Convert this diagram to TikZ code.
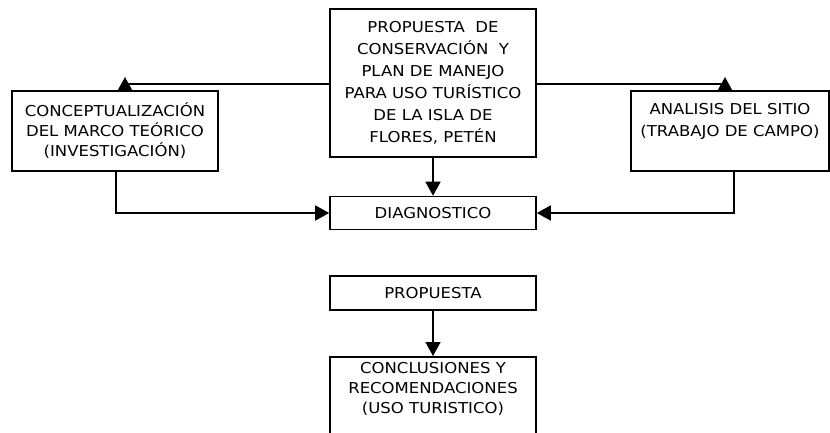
\documentclass[tikz,border=0pt]{standalone}
\usepackage{fontspec}
\setmainfont{DejaVu Sans}[FakeStretch=1.1]
\usetikzlibrary{arrows.meta}
\begin{document}
\begin{tikzpicture}[x=1pt,y=-1pt,
  box/.style={draw=black,line width=1.6pt,fill=white,inner sep=0pt},
  txt/.style={align=center,font=\fontsize{15}{22}\selectfont,inner sep=0pt},
  conn/.style={line width=1.6pt},
  arr/.style={line width=1.6pt,-{Triangle[length=14pt,width=15pt]}}]
\useasboundingbox (0,0) rectangle (830,433);
% boxes
\node[box,minimum width=206pt,minimum height=148pt] (top) at (433,83) {};
\node[txt] (toptxt) at (top.center) {PROPUESTA \ DE\\CONSERVACIÓN \ Y\\PLAN DE MANEJO\\PARA USO TURÍSTICO\\DE LA ISLA DE\\FLORES, PETÉN};
\node[box,minimum width=206pt,minimum height=80pt] (left) at (115,131) {};
\node[txt,font=\fontsize{15}{20}\selectfont] (lefttxt) at (left.center) {CONCEPTUALIZACIÓN\\DEL MARCO TEÓRICO\\(INVESTIGACIÓN)};
\node[box,minimum width=198pt,minimum height=80pt] (right) at (730,131) {};
\node[txt] (righttxt) at (730,121) {ANALISIS DEL SITIO\\(TRABAJO DE CAMPO)};
\node[box,minimum width=206pt,minimum height=33pt] (diag) at (433,213) {};
\node[txt] (diagtxt) at (diag.center) {DIAGNOSTICO};
\node[box,minimum width=206pt,minimum height=34pt] (prop) at (433,293) {};
\node[txt] (proptxt) at (prop.center) {PROPUESTA};
\node[box,minimum width=206pt,minimum height=100pt,anchor=north] (concl) at (433,356) {};
\node[txt,font=\fontsize{15}{20}\selectfont] (concltxt) at (433,389) {CONCLUSIONES Y\\RECOMENDACIONES\\(USO TURISTICO)};
% connectors
\coordinate (la) at (125,84);
\coordinate (ra) at (725,84);
\draw[conn] (top.west |- la) -- (la);
\draw[arr] (la |- left.north) -- ([yshift=7pt]la);
\draw[conn] (top.east |- ra) -- (ra);
\draw[arr] (ra |- right.north) -- ([yshift=7pt]ra);
\coordinate (lb) at (116,171);
\coordinate (rb) at (734,171);
\draw[arr] (lb) |- (diag.west);
\draw[arr] (rb) |- (diag.east);
\draw[arr] (top.south) -- (diag.north);
\draw[arr] (prop.south) -- (concl.north);
\end{tikzpicture}
\end{document}
